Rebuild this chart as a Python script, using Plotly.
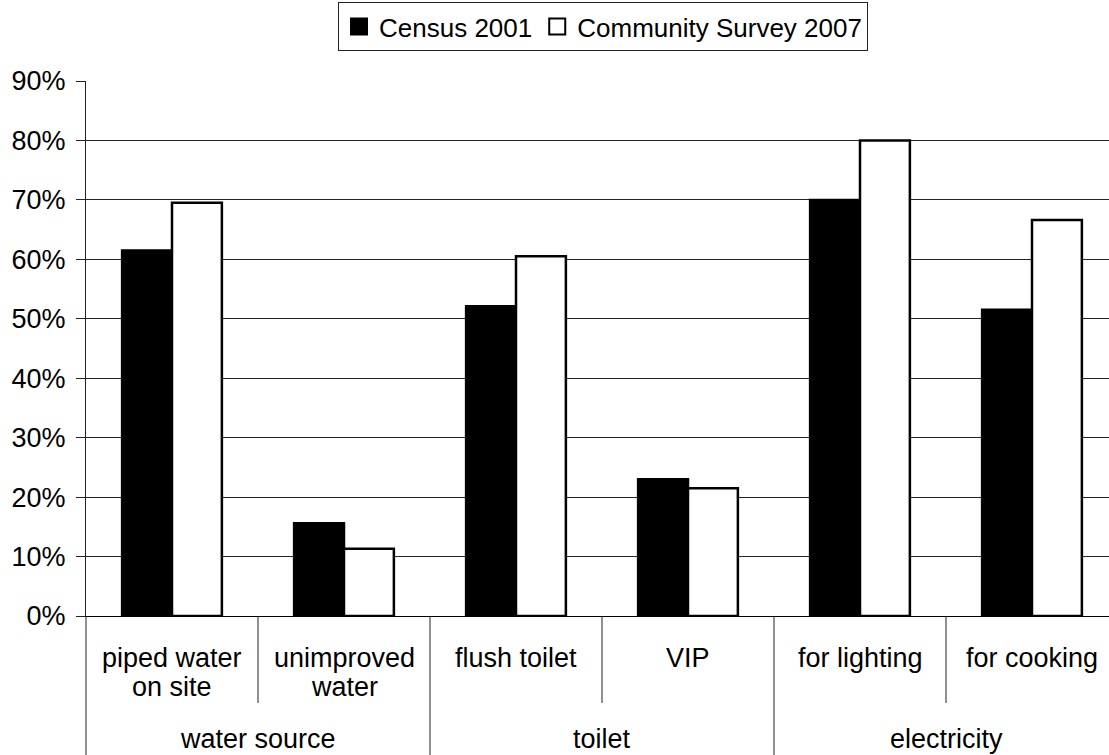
import plotly.graph_objects as go

# Household access indicators, grouped by service
categories = ["piped water<br>on site", "unimproved<br>water", "flush toilet", "VIP",
              "for lighting", "for cooking"]
groups = ["water source", "toilet", "electricity"]
group_sizes = [2, 2, 2]
census_2001 = [61.5, 15.6, 52.1, 23.0, 70.0, 51.5]
survey_2007 = [69.5, 11.3, 60.5, 21.5, 80.0, 66.6]
y_ticks = [0, 10, 20, 30, 40, 50, 60, 70, 80, 90]
series_names = ["Census 2001", "Community Survey 2007"]

FONT = "Liberation Sans, Arial, sans-serif"
LABEL_SIZE = 27
W, H = 1109, 755
ML, MT, MB = 86, 81, 139
CAT_PX = 172  # width of one category slot in pixels
span = (W - ML) / CAT_PX
x_range = [-0.5, -0.5 + span]
plot_h = H - MT - MB

xs = list(range(len(categories)))

fig = go.Figure()
fig.add_trace(go.Bar(
    x=xs, y=census_2001, name=series_names[0], showlegend=False,
    marker=dict(color="black", line=dict(color="black", width=2.5)),
))
fig.add_trace(go.Bar(
    x=xs, y=survey_2007, name=series_names[1], showlegend=False,
    marker=dict(color="white", line=dict(color="black", width=2.5)),
))
# legend entries with larger square swatches
for name, fill in zip(series_names, ["black", "white"]):
    fig.add_trace(go.Scatter(
        x=[None], y=[None], mode="markers", name=name,
        marker=dict(symbol="square", size=16, color=fill,
                    line=dict(color="black", width=2)),
    ))


def px_to_paper_y(ypx):
    return (H - MB - ypx) / plot_h


def idx_to_paper_x(v):
    return (v - x_range[0]) / span


annotations = []
shapes = []

# category labels, each line placed separately
for i, label in enumerate(categories):
    lines = label.split("<br>")
    for j, line in enumerate(lines):
        annotations.append(dict(
            x=i, xref="x", y=px_to_paper_y(658 + 29 * j), yref="paper",
            text=line, showarrow=False, xanchor="center", yanchor="middle",
            font=dict(family=FONT, size=LABEL_SIZE, color="black"),
        ))

# group labels and separators
start = 0
bottom = px_to_paper_y(H + 2)
for g, n in zip(groups, group_sizes):
    center = start + (n - 1) / 2
    annotations.append(dict(
        x=center, xref="x", y=px_to_paper_y(739), yref="paper",
        text=g, showarrow=False, xanchor="center", yanchor="middle",
        font=dict(family=FONT, size=LABEL_SIZE, color="black"),
    ))
    # long divider at the group's left boundary
    xb = idx_to_paper_x(start - 0.5)
    shapes.append(dict(type="line", xref="paper", yref="paper",
                       x0=xb, x1=xb, y0=0, y1=bottom,
                       line=dict(color="#222", width=1)))
    # short dividers between categories inside the group
    for k in range(1, n):
        xi = idx_to_paper_x(start + k - 0.5)
        shapes.append(dict(type="line", xref="paper", yref="paper",
                           x0=xi, x1=xi, y0=0, y1=px_to_paper_y(703),
                           line=dict(color="#222", width=1)))
    start += n
# closing divider after the last group
xe = idx_to_paper_x(start - 0.5)
shapes.append(dict(type="line", xref="paper", yref="paper",
                   x0=xe, x1=xe, y0=0, y1=bottom,
                   line=dict(color="#222", width=1)))

fig.update_layout(
    width=W, height=H,
    margin=dict(l=ML, r=0, t=MT, b=MB, pad=0),
    paper_bgcolor="white", plot_bgcolor="white",
    barmode="group", bargap=0.42, bargroupgap=0,
    font=dict(family=FONT, size=LABEL_SIZE, color="black"),
    xaxis=dict(range=x_range, showticklabels=False, ticks="",
               showgrid=False, zeroline=False,
               showline=True, linecolor="black", linewidth=1),
    yaxis=dict(range=[0, 90], tickvals=y_ticks,
               ticktext=[f"{v}%" for v in y_ticks],
               ticks="outside", ticklen=9, tickcolor="#222", tickwidth=1,
               ticklabelstandoff=5,
               showgrid=True, gridcolor="#222", gridwidth=1,
               zeroline=False, showline=True, linecolor="#222", linewidth=1,
               tickfont=dict(family=FONT, size=LABEL_SIZE, color="black")),
    legend=dict(orientation="h", xref="container", yref="container",
                x=603 / W, y=1 - 2 / H, xanchor="center", yanchor="top",
                bordercolor="#222", borderwidth=1, bgcolor="white",
                font=dict(family=FONT, size=26, color="black"),
                itemsizing="trace", tracegroupgap=0),
    annotations=annotations,
    shapes=shapes,
)

fig.write_html("out.html")
